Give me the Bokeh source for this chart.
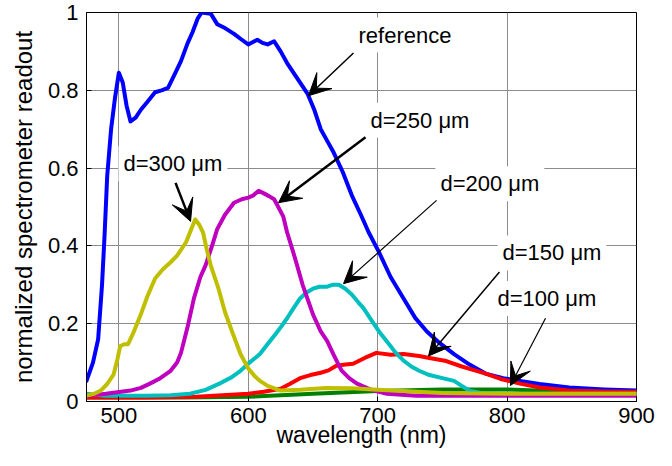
from bokeh.plotting import figure
from bokeh.models import Range1d, FixedTicker, Label, Arrow, VeeHead
from bokeh.embed import file_html
from bokeh.resources import INLINE

FONT = "Liberation Sans"

# ---- data ----
ref_wl = [475, 480, 484, 487, 489, 491, 494, 497, 500, 503, 506, 509, 513, 517, 522, 528,
          533, 538, 543, 548, 553, 557, 561, 564, 571, 576, 582, 589, 595, 600, 604, 607,
          611, 615, 620, 625, 630, 638, 646, 651, 656, 661, 666, 673, 680, 687, 693, 701,
          710, 720, 729, 738, 748, 759, 771, 784, 797, 810, 825, 848, 875, 900]
ref_val = [0.053, 0.10, 0.16, 0.30, 0.43, 0.58, 0.70, 0.78, 0.845, 0.82, 0.76, 0.72, 0.73,
           0.75, 0.77, 0.795, 0.80, 0.806, 0.84, 0.875, 0.92, 0.95, 0.985, 1.0, 0.997, 0.97,
           0.96, 0.945, 0.93, 0.918, 0.925, 0.93, 0.922, 0.918, 0.926, 0.90, 0.87, 0.83,
           0.79, 0.75, 0.70, 0.67, 0.64, 0.59, 0.53, 0.48, 0.435, 0.384, 0.32, 0.265, 0.215,
           0.18, 0.15, 0.122, 0.095, 0.071, 0.06, 0.053, 0.045, 0.036, 0.031, 0.028]

d100_wl = [475, 550, 600, 650, 700, 750, 800, 850, 900]
d100_val = [0.01, 0.01, 0.012, 0.02, 0.027, 0.031, 0.031, 0.025, 0.02]

d150_wl = [475, 520, 560, 600, 612, 625, 632, 640, 648, 656, 662, 668, 675, 681, 690, 699,
           710, 720, 732, 740, 753, 765, 775, 784, 795, 810, 825, 848, 875, 900]
d150_val = [0.01, 0.01, 0.012, 0.02, 0.025, 0.033, 0.045, 0.06, 0.068, 0.074, 0.08, 0.092,
            0.095, 0.097, 0.112, 0.125, 0.12, 0.122, 0.117, 0.112, 0.104, 0.09, 0.08, 0.071,
            0.058, 0.046, 0.036, 0.028, 0.026, 0.025]

d200_wl = [475, 490, 520, 540, 555, 567, 579, 587, 594, 601, 609, 615, 621, 626, 630, 635,
           640, 645, 650, 655, 661, 665, 670, 675, 680, 685, 689, 695, 701, 707, 714, 720,
           726, 732, 740, 750, 759, 765, 771, 780, 800, 900]
d200_val = [0.02, 0.015, 0.015, 0.016, 0.02, 0.03, 0.048, 0.062, 0.079, 0.10, 0.122, 0.148,
            0.173, 0.195, 0.214, 0.24, 0.265, 0.28, 0.29, 0.295, 0.295, 0.30, 0.30, 0.29,
            0.275, 0.255, 0.24, 0.21, 0.18, 0.155, 0.125, 0.105, 0.09, 0.079, 0.068, 0.06,
            0.053, 0.04, 0.028, 0.022, 0.02, 0.02]

d250_wl = [475, 490, 509, 517, 524, 532, 540, 545, 548, 553, 558, 563, 567, 572, 576, 582,
           589, 595, 600, 604, 608, 612, 616, 620, 627, 630, 636, 642, 650, 656, 661, 666,
           672, 678, 684, 695, 707, 730, 800, 900]
d250_val = [0.015, 0.02, 0.028, 0.035, 0.046, 0.06, 0.079, 0.10, 0.125, 0.19, 0.265, 0.32,
            0.35, 0.40, 0.443, 0.48, 0.511, 0.52, 0.524, 0.53, 0.542, 0.535, 0.528, 0.52,
            0.476, 0.435, 0.37, 0.30, 0.224, 0.18, 0.155, 0.12, 0.08, 0.06, 0.046, 0.03,
            0.02, 0.015, 0.015, 0.015]

d300_wl = [475, 481, 486, 491, 496, 499, 501, 504, 507, 511, 517, 522, 528, 534, 540, 545,
           548, 552, 555, 559, 562, 565, 568, 571, 577, 582, 588, 594, 600, 605, 609, 615,
           625, 640, 660, 680, 700, 750, 800, 900]
d300_val = [0.015, 0.02, 0.028, 0.045, 0.07, 0.11, 0.142, 0.147, 0.147, 0.175, 0.224, 0.27,
            0.316, 0.34, 0.358, 0.375, 0.39, 0.41, 0.435, 0.468, 0.455, 0.435, 0.39, 0.35,
            0.29, 0.23, 0.175, 0.122, 0.085, 0.065, 0.053, 0.04, 0.028, 0.03, 0.035, 0.034,
            0.03, 0.022, 0.02, 0.02]

series_names = ["reference", "d=100 μm", "d=150 μm", "d=200 μm", "d=250 μm", "d=300 μm"]
series_colors = ["#0000ff", "#008000", "#ff0000", "#00bfbf", "#bf00bf", "#bfbf00"]

x_ticks = [500, 600, 700, 800, 900]
y_ticks = [0, 0.2, 0.4, 0.6, 0.8, 1]
y_tick_labels = ["0", "0.2", "0.4", "0.6", "0.8", "1"]

# annotation: (label, text x, text y, arrow start x, start y, tip x, tip y, arrow width)
annotations = [
    ("reference", 681.3, 0.942, 681.3, 0.896, 646.5, 0.786, 1.5),
    ("d=250 μm", 690.6, 0.723, 690.6, 0.679, 623.4, 0.511, 2.5),
    ("d=300 μm", 499.7, 0.611, 543.8, 0.562, 555.4, 0.463, 2.5),
    ("d=200 μm", 744.6, 0.560, 745.5, 0.517, 673.6, 0.303, 1.2),
    ("d=150 μm", 792.6, 0.382, 794.1, 0.333, 739.3, 0.117, 1.5),
    ("d=100 μm", 788.7, 0.265, 829.7, 0.214, 802.6, 0.041, 1.2),
]

# ---- figure ----
p = figure(width=656, height=450, output_backend="svg", toolbar_location=None,
           x_range=Range1d(475, 900), y_range=Range1d(0, 1),
           min_border_left=86, min_border_right=20, min_border_top=12, min_border_bottom=48)
p.background_fill_color = "white"
p.border_fill_color = "white"
p.outline_line_color = "black"
p.outline_line_width = 1

xs_all = [ref_wl, d100_wl, d150_wl, d200_wl, d250_wl, d300_wl]
ys_all = [ref_val, d100_val, d150_val, d200_val, d250_val, d300_val]
for xs, ys, c in zip(xs_all, ys_all, series_colors):
    p.line(xs, ys, line_color=c, line_width=4, line_join="round", line_cap="round")

for ax in (p.xaxis[0], p.yaxis[0]):
    ax.major_label_text_font = FONT
    ax.major_label_text_font_size = "22px"
    ax.major_label_text_color = "black"
    ax.axis_label_text_font = FONT
    ax.axis_label_text_font_style = "normal"
    ax.axis_label_text_color = "black"
    ax.axis_line_color = "black"
    ax.major_tick_in = 5
    ax.major_tick_out = 0
    ax.minor_tick_line_color = None
    ax.major_tick_line_color = "black"

p.xaxis.axis_label_text_font_size = "23px"
p.yaxis.axis_label_text_font_size = "24px"
p.xaxis.ticker = FixedTicker(ticks=x_ticks)
p.yaxis.ticker = FixedTicker(ticks=y_ticks)
p.yaxis.major_label_overrides = {t: s for t, s in zip(y_ticks, y_tick_labels)}

p.xaxis.axis_label = "wavelength (nm)"
p.yaxis.axis_label = "normalized spectrometer readout"
p.xaxis.major_label_standoff = 6
p.xaxis.axis_label_standoff = -4
p.yaxis.major_label_standoff = 8
p.yaxis.axis_label_standoff = 8

for g in (p.xgrid[0], p.ygrid[0]):
    g.grid_line_color = "#8c8c8c"
    g.grid_line_width = 1
p.xgrid.ticker = FixedTicker(ticks=x_ticks)
p.ygrid.ticker = FixedTicker(ticks=y_ticks)

for text, tx, ty, sx, sy, ex, ey, lw in annotations:
    p.add_layout(Label(x=tx, y=ty, text=text, text_font=FONT, text_font_size="22px",
                       text_color="black", text_baseline="alphabetic", text_align="left",
                       background_fill_color="white", padding=5))
    p.add_layout(Arrow(x_start=sx, y_start=sy, x_end=ex, y_end=ey, line_width=lw,
                       line_color="black",
                       end=VeeHead(size=22, fill_color="black", line_color="black",
                                   line_width=1)))

open("out.html", "w").write(file_html(p, INLINE))
